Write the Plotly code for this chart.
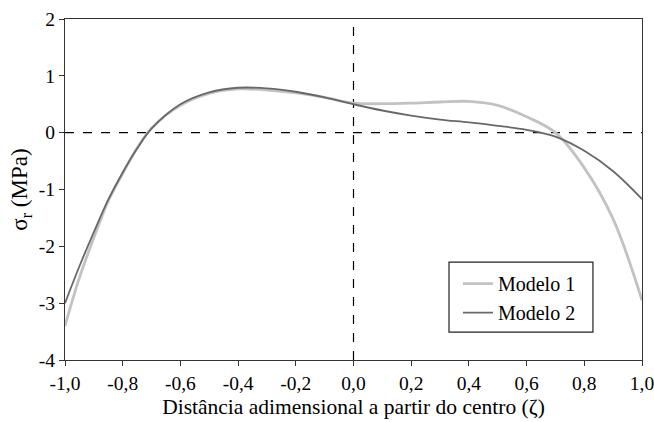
import plotly.graph_objects as go

x_vals = [-1.0, -0.95, -0.9, -0.85, -0.8, -0.75, -0.7, -0.6, -0.5, -0.4, -0.3, -0.2, -0.1,
          0.0, 0.1, 0.2, 0.3, 0.4, 0.5, 0.6, 0.7, 0.8, 0.9, 1.0]
modelo1 = [-3.40, -2.55, -1.85, -1.20, -0.72, -0.27, 0.08, 0.48, 0.69, 0.77, 0.75, 0.70, 0.62,
           0.52, 0.51, 0.52, 0.54, 0.55, 0.48, 0.28, 0.00, -0.62, -1.52, -2.95]
modelo2 = [-3.00, -2.35, -1.75, -1.18, -0.70, -0.28, 0.07, 0.50, 0.71, 0.79, 0.78, 0.72, 0.62,
           0.50, 0.39, 0.30, 0.23, 0.18, 0.12, 0.05, -0.07, -0.32, -0.68, -1.17]

x_ticks = [-1.0, -0.8, -0.6, -0.4, -0.2, 0.0, 0.2, 0.4, 0.6, 0.8, 1.0]
x_ticktext = ["-1,0", "-0,8", "-0,6", "-0,4", "-0,2", "0,0", "0,2", "0,4", "0,6", "0,8", "1,0"]
y_ticks = [-4, -3, -2, -1, 0, 1, 2]
y_ticktext = ["-4", "-3", "-2", "-1", "0", "1", "2"]

FF = "Liberation Serif"

fig = go.Figure()
fig.add_trace(go.Scatter(x=x_vals, y=modelo1, mode="lines", name="Modelo 1",
                         line=dict(color="#c2c2c2", width=2.8, shape="spline", smoothing=1.0)))
fig.add_trace(go.Scatter(x=x_vals, y=modelo2, mode="lines", name="Modelo 2",
                         line=dict(color="#686868", width=1.8, shape="spline", smoothing=1.0)))

fig.add_shape(type="line", xref="x", yref="y", x0=-1, x1=1, y0=0, y1=0,
              line=dict(color="black", width=1.2, dash="dash"), layer="below")
fig.add_shape(type="line", xref="x", yref="y", x0=0, x1=0, y0=-4, y1=2,
              line=dict(color="black", width=1.2, dash="dash"), layer="below")
# legend frame
fig.add_shape(type="rect", xref="paper", yref="paper", x0=0.6655, x1=0.915, y0=0.082, y1=0.287,
              line=dict(color="#222222", width=1.2), fillcolor="white", layer="above")

fig.update_layout(
    width=654, height=422,
    margin=dict(l=65, r=12, t=19, b=62),
    paper_bgcolor="white", plot_bgcolor="white",
    font=dict(family=FF, size=20, color="black"),
    showlegend=True,
    legend=dict(x=0.681, y=0.281, xanchor="left", yanchor="top",
                bgcolor="rgba(0,0,0,0)", borderwidth=0,
                font=dict(family=FF, size=20, color="black"),
                tracegroupgap=0, itemwidth=30),
    xaxis=dict(range=[-1, 1], tickvals=x_ticks, ticktext=x_ticktext, automargin=False,
               ticklabeloverflow="allow",
               showgrid=False, zeroline=False, showline=True, linecolor="#333333", linewidth=1.2,
               mirror=True, ticks="outside", ticklen=5, tickcolor="#333333",
               tickfont=dict(family=FF, size=19.5, color="black"),
               title=dict(text="Distância adimensional a partir do centro (ζ)", standoff=6,
                          font=dict(family=FF, size=21.5, color="black"))),
    yaxis=dict(range=[-4, 2], tickvals=y_ticks, ticktext=y_ticktext, automargin=False,
               ticklabeloverflow="allow",
               showgrid=False, zeroline=False, showline=True, linecolor="#333333", linewidth=1.2,
               mirror=True, ticks="outside", ticklen=5, tickcolor="#333333",
               tickfont=dict(family=FF, size=19.5, color="black"),
               title=dict(text="σ<sub>r</sub> (MPa)", standoff=4,
                          font=dict(family=FF, size=23, color="black"))),
)

fig.write_html("out.html")
